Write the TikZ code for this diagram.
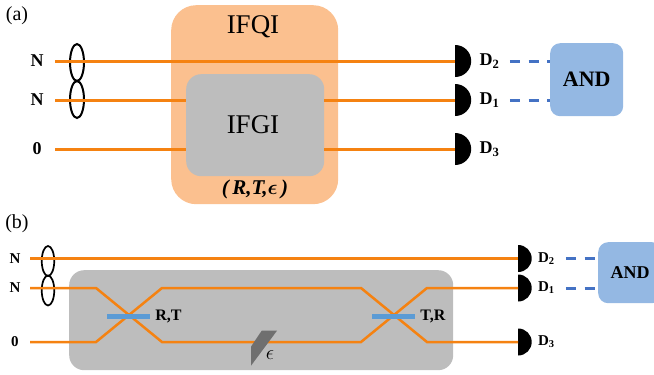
\documentclass[tikz,border=0pt]{standalone}
\usepackage{fontspec}
\setmainfont{Liberation Serif}
\usetikzlibrary{positioning,shapes.geometric}
\definecolor{ifqifill}{HTML}{FBC08F}
\definecolor{ifgifill}{HTML}{BDBDBD}
\definecolor{andfill}{HTML}{94B8E3}
\definecolor{beamcol}{HTML}{F58211}
\definecolor{dashcol}{HTML}{4472C4}
\definecolor{splitcol}{HTML}{5B9BD5}
\definecolor{attencol}{HTML}{6F6F6F}
\tikzset{
  sz/.style={font=\fontsize{#1}{#1}\selectfont},
  beam/.style={draw=beamcol,line width=#1},
  beam/.default=3pt,
  coinc/.style={draw=dashcol,line width=3pt,dash pattern=on 10pt off 8.7pt},
  pair/.style={ellipse,draw,line width=2pt,inner sep=0pt,minimum width=14pt},
  det/.style={semicircle,rotate=-90,anchor=chord center,fill=black,inner sep=0pt,minimum height=#1},
  dlabel/.style={inner sep=0pt,anchor=west,text width=30pt,minimum height=18pt,font=\fontsize{#1}{#1}\selectfont\bfseries},
  inlabel/.style={inner sep=0pt,align=center,font=\fontsize{#1}{#1}\selectfont\bfseries},
  box/.style={rounded corners=#1,inner sep=0pt,anchor=north west},
  split/.style={fill=splitcol,inner sep=0pt,minimum width=43pt,minimum height=5pt}
}
\begin{document}
\begin{tikzpicture}[x=1pt,y=-1pt]
\useasboundingbox (0,0) rectangle (654,375);

% part (a)
\node[sz=20] (taga) at (17,16) {(a)};
\node[box=25pt,fill=ifqifill,minimum width=167pt,minimum height=199pt] (ifqi) at (171,5) {};
\node[box=15pt,fill=ifgifill,minimum width=138pt,minimum height=102pt] (ifgi) at (186,74) {};
\node[sz=27] (ifqitext) at (253,27) {IFQI};
\node[sz=27] (ifgitext) at (253,125) {IFGI};
\node[sz=21,inner sep=0pt] (rtea) at (255,189) {\textbf{\textit{(\,R,T,}}{\boldmath$\epsilon$}\textbf{\textit{\,)}}};

\node[inlabel=18,minimum width=36pt] (n1a) at (37,61) {N};
\node[inlabel=18,minimum width=36pt] (n2a) at (37,100) {N};
\node[inlabel=18,minimum width=36pt] (n3a) at (37,149) {0};

\node[det=16pt] (d2a) at (455,61) {};
\node[det=16pt] (d1a) at (455,100) {};
\node[det=16pt] (d3a) at (455,149) {};
\node[dlabel=18,right=8pt of d2a.north] (l2a) {D\textsubscript{2}};
\node[dlabel=18,right=8pt of d1a.north] (l1a) {D\textsubscript{1}};
\node[dlabel=18,right=8pt of d3a.north] (l3a) {D\textsubscript{3}};

\node[box=10pt,fill=andfill,minimum width=73pt,minimum height=73pt,inlabel=22,anchor=north west] (anda) at (550,43) {AND};

\node[pair,minimum height=37pt] (e1a) at (77,62.5) {};
\node[pair,minimum height=37pt] (e2a) at (77,99.5) {};

\draw[beam] (n1a.east) -- (d2a.chord center);
\draw[beam] (n2a.east) -- (ifgi.west |- n2a);
\draw[beam] (ifgi.east |- d1a.chord center) -- (d1a.chord center);
\draw[beam] (n3a.east) -- (ifgi.west |- n3a);
\draw[beam] (ifgi.east |- d3a.chord center) -- (d3a.chord center);
\draw[coinc] (l2a.east) -- (anda.west |- l2a);
\draw[coinc] (l1a.east) -- (anda.west |- l1a);

% part (b)
\node[sz=20] (tagb) at (17,224) {(b)};
\node[box=15pt,fill=ifgifill,minimum width=384pt,minimum height=100pt] (mzi) at (69,270) {};

\node[inlabel=15,minimum width=30pt] (n1b) at (15,258.5) {N};
\node[inlabel=15,minimum width=30pt] (n2b) at (15,288) {N};
\node[inlabel=15,minimum width=30pt] (n3b) at (15,342) {0};

\node[det=13.5pt] (d2b) at (518,258.5) {};
\node[det=13.5pt] (d1b) at (518,288) {};
\node[det=13.5pt] (d3b) at (518,342) {};
\node[dlabel=15,text width=27.5pt,right=6pt of d2b.north] (l2b) {D\textsubscript{2}};
\node[dlabel=15,text width=27.5pt,right=6pt of d1b.north] (l1b) {D\textsubscript{1}};
\node[dlabel=15,text width=27.5pt,right=6pt of d3b.north] (l3b) {D\textsubscript{3}};

\node[box=10pt,fill=andfill,minimum width=64pt,minimum height=61pt,inlabel=18,anchor=north west] (andb) at (598,242) {AND};

\node[pair,line width=1.7pt,minimum width=12.5pt,minimum height=30pt] (e1b) at (48,261) {};
\node[pair,line width=1.7pt,minimum width=12.5pt,minimum height=30pt] (e2b) at (48,290.5) {};

\coordinate (bs1in) at (96,288);
\coordinate (bs1up) at (162,288);
\coordinate (bs1lo) at (96,342);
\coordinate (bs1out) at (162,342);
\coordinate (bs2in) at (361,288);
\coordinate (bs2up) at (427,288);
\coordinate (bs2lo) at (361,342);
\coordinate (bs2out) at (427,342);

\draw[beam=2.5pt] (n1b.east) -- (d2b.chord center);
\draw[beam=2.5pt] (n2b.east) -- (bs1in) -- (bs1out) -- (bs2lo) -- (bs2up) -- (d1b.chord center);
\draw[beam=2.5pt] (n3b.east) -- (bs1lo) -- (bs1up) -- (bs2in) -- (bs2out) -- (d3b.chord center);

\node[split] (bs1) at (128.5,316) {};
\node[split] (bs2) at (393.5,316) {};
\node[inlabel=16,right=5pt of bs1] (rt) {R,T};
\node[inlabel=16,right=5pt of bs2] (tr) {T,R};

\fill[attencol] (251,346.7) -- (261.7,330.7) -- (277,330.7) -- (251,365.7) -- cycle;
\node[sz=20,inner sep=0pt] (atten) at (270,355) {$\epsilon$};

\draw[coinc] (l2b.east) -- (andb.west |- l2b);
\draw[coinc] (l1b.east) -- (andb.west |- l1b);
\end{tikzpicture}
\end{document}
